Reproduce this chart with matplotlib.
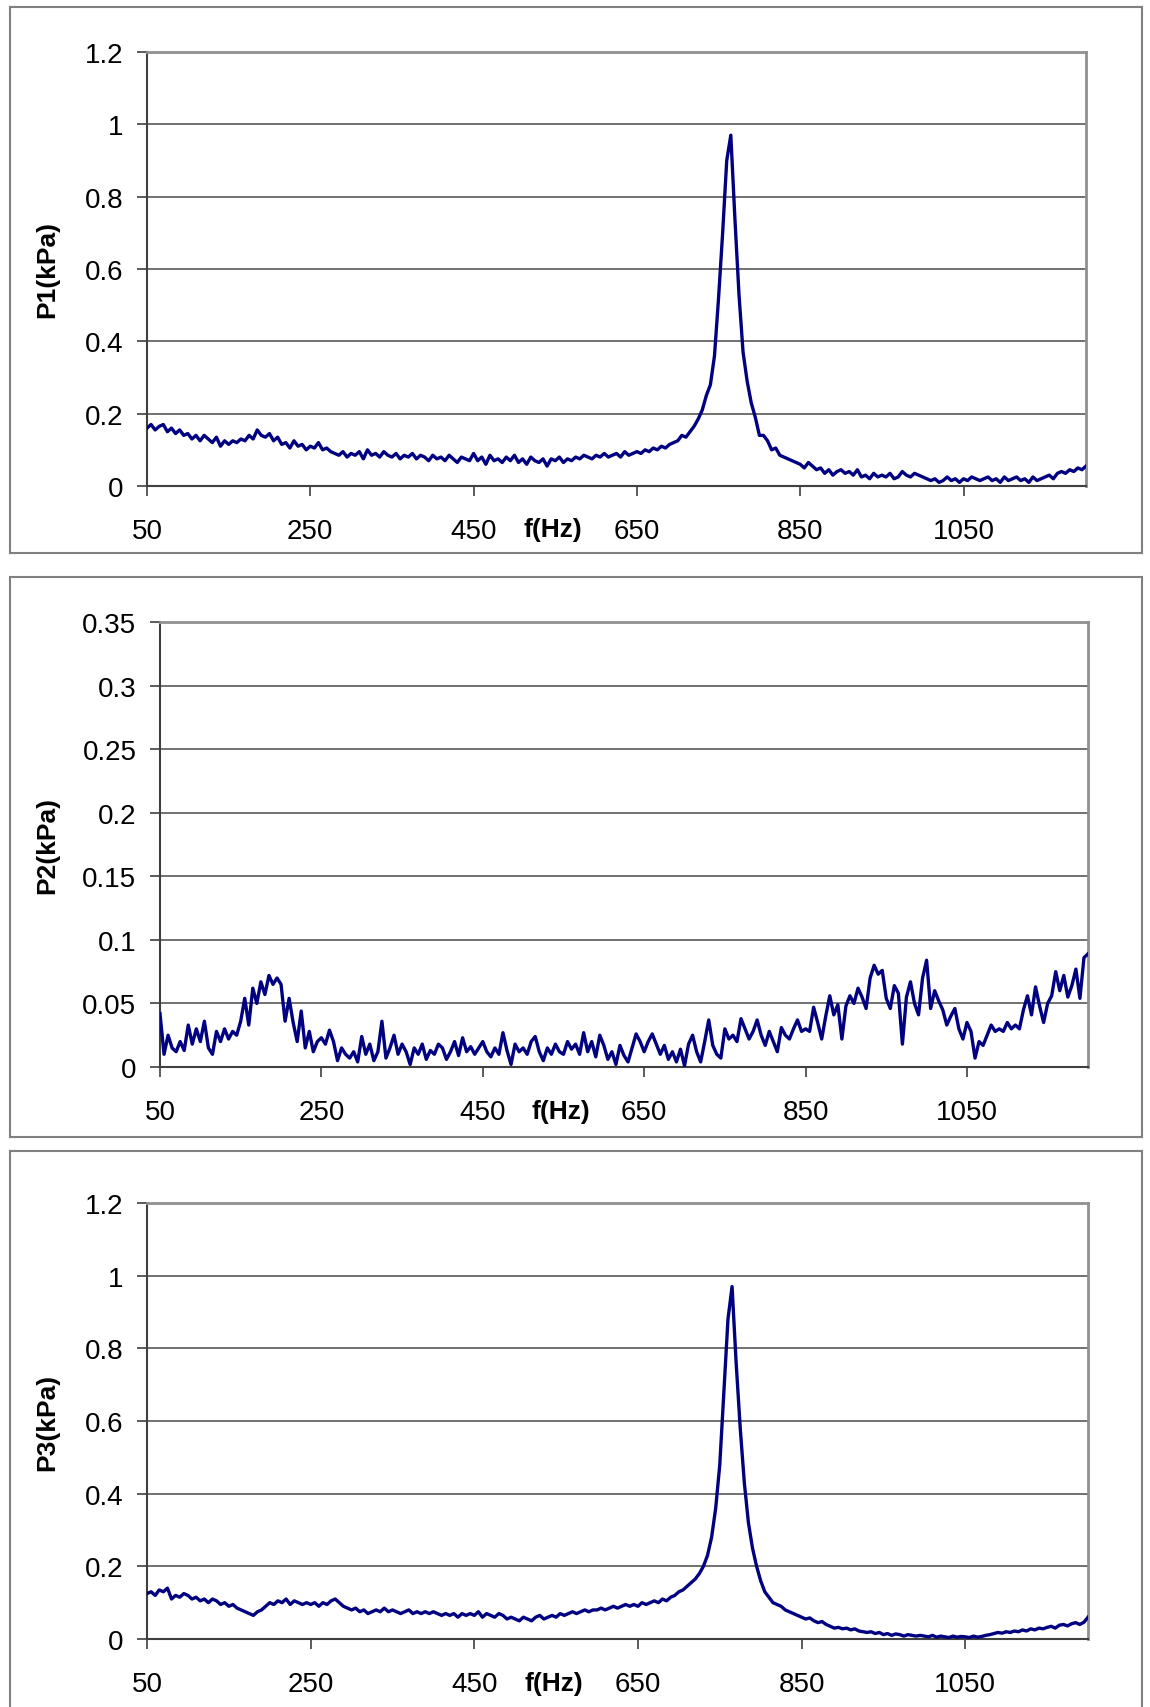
import numpy as np
import matplotlib
matplotlib.use('Agg')
import matplotlib.pyplot as plt
from matplotlib.patches import Rectangle

plt.rcParams['font.family'] = ['Liberation Sans', 'DejaVu Sans']

# ---------------- data (5 Hz steps, 50 .. 1200 Hz) ----------------
freq = np.arange(50, 1201, 5)

p1 = [
    0.16, 0.17, 0.155, 0.165, 0.17, 0.15, 0.16, 0.145, 0.155, 0.14,
    0.145, 0.13, 0.14, 0.125, 0.14, 0.13, 0.12, 0.135, 0.11, 0.125,
    0.115, 0.125, 0.12, 0.13, 0.125, 0.14, 0.13, 0.155, 0.14, 0.135,
    0.145, 0.125, 0.135, 0.115, 0.12, 0.105, 0.125, 0.11, 0.115, 0.1,
    0.11, 0.105, 0.12, 0.1, 0.105, 0.095, 0.09, 0.085, 0.095, 0.08,
    0.09, 0.085, 0.095, 0.075, 0.1, 0.085, 0.09, 0.08, 0.095, 0.085,
    0.08, 0.09, 0.075, 0.085, 0.08, 0.09, 0.075, 0.085, 0.08, 0.07,
    0.085, 0.075, 0.08, 0.07, 0.085, 0.075, 0.065, 0.08, 0.075, 0.07,
    0.09, 0.07, 0.08, 0.06, 0.085, 0.07, 0.075, 0.065, 0.08, 0.07,
    0.085, 0.065, 0.075, 0.06, 0.08, 0.07, 0.065, 0.075, 0.055, 0.075,
    0.07, 0.08, 0.065, 0.075, 0.07, 0.08, 0.075, 0.085, 0.08, 0.075,
    0.085, 0.08, 0.09, 0.08, 0.085, 0.09, 0.08, 0.095, 0.085, 0.09,
    0.095, 0.09, 0.1, 0.095, 0.105, 0.1, 0.11, 0.105, 0.115, 0.12,
    0.125, 0.14, 0.135, 0.15, 0.165, 0.185, 0.21, 0.25, 0.28, 0.36,
    0.52, 0.7, 0.9, 0.97, 0.74, 0.53, 0.37, 0.29, 0.23, 0.19,
    0.14, 0.14, 0.125, 0.1, 0.105, 0.085, 0.08, 0.075, 0.07, 0.065,
    0.06, 0.05, 0.065, 0.055, 0.045, 0.05, 0.035, 0.045, 0.03, 0.04,
    0.045, 0.035, 0.04, 0.03, 0.045, 0.025, 0.03, 0.02, 0.035, 0.025,
    0.03, 0.025, 0.035, 0.02, 0.025, 0.04, 0.03, 0.025, 0.035, 0.03,
    0.025, 0.02, 0.015, 0.02, 0.01, 0.015, 0.025, 0.015, 0.02, 0.01,
    0.02, 0.015, 0.025, 0.02, 0.015, 0.02, 0.025, 0.015, 0.02, 0.01,
    0.025, 0.015, 0.02, 0.025, 0.015, 0.02, 0.01, 0.025, 0.015, 0.02,
    0.025, 0.03, 0.02, 0.035, 0.04, 0.035, 0.045, 0.04, 0.05, 0.045,
    0.055,
]

p2 = [
    0.042, 0.01, 0.025, 0.015, 0.012, 0.02, 0.013, 0.033, 0.018, 0.03,
    0.02, 0.036, 0.015, 0.01, 0.028, 0.02, 0.03, 0.022, 0.028, 0.025,
    0.036, 0.054, 0.033, 0.062, 0.05, 0.067, 0.057, 0.072, 0.065, 0.07,
    0.065, 0.036, 0.054, 0.035, 0.02, 0.044, 0.015, 0.028, 0.012, 0.02,
    0.023, 0.018, 0.029, 0.02, 0.005, 0.015, 0.01, 0.007, 0.012, 0.004,
    0.024, 0.01, 0.018, 0.005, 0.012, 0.036, 0.007, 0.015, 0.025, 0.01,
    0.018, 0.012, 0.002, 0.015, 0.01, 0.018, 0.006, 0.013, 0.01, 0.018,
    0.015, 0.006, 0.012, 0.02, 0.009, 0.023, 0.012, 0.016, 0.01, 0.015,
    0.02, 0.012, 0.008, 0.015, 0.01, 0.027, 0.013, 0.002, 0.018, 0.012,
    0.015, 0.01, 0.02, 0.024, 0.012, 0.005, 0.015, 0.01, 0.018, 0.012,
    0.01, 0.02, 0.014, 0.018, 0.01, 0.027, 0.012, 0.02, 0.008, 0.025,
    0.017, 0.006, 0.012, 0.002, 0.017, 0.009, 0.004, 0.015, 0.026, 0.02,
    0.012, 0.02, 0.026, 0.018, 0.01, 0.017, 0.006, 0.012, 0.004, 0.014,
    0.001, 0.018, 0.025, 0.012, 0.004, 0.02, 0.037, 0.017, 0.01, 0.007,
    0.03, 0.022, 0.025, 0.02, 0.038, 0.03, 0.022, 0.028, 0.037, 0.025,
    0.017, 0.028, 0.02, 0.012, 0.031, 0.025, 0.022, 0.03, 0.037, 0.028,
    0.03, 0.028, 0.047, 0.035, 0.022, 0.04, 0.056, 0.041, 0.049, 0.022,
    0.048, 0.056, 0.05, 0.062, 0.055, 0.046, 0.07, 0.08, 0.073, 0.076,
    0.054, 0.046, 0.064, 0.058, 0.018, 0.055, 0.067, 0.05, 0.041, 0.07,
    0.084, 0.046, 0.06, 0.052, 0.045, 0.033, 0.04, 0.046, 0.03, 0.022,
    0.035, 0.028, 0.007, 0.02, 0.017, 0.025, 0.033, 0.028, 0.03, 0.028,
    0.035, 0.03, 0.033, 0.03, 0.045, 0.056, 0.041, 0.063, 0.048, 0.035,
    0.05, 0.056, 0.075, 0.06, 0.072, 0.055, 0.064, 0.077, 0.054, 0.086,
    0.089,
]

p3 = [
    0.125, 0.13, 0.12, 0.135, 0.13, 0.14, 0.11, 0.12, 0.115, 0.125,
    0.12, 0.11, 0.115, 0.105, 0.11, 0.1, 0.11, 0.105, 0.095, 0.1,
    0.09, 0.095, 0.085, 0.08, 0.075, 0.07, 0.065, 0.075, 0.08, 0.09,
    0.1, 0.095, 0.105, 0.1, 0.11, 0.095, 0.105, 0.1, 0.095, 0.1,
    0.095, 0.1, 0.09, 0.1, 0.095, 0.105, 0.11, 0.1, 0.09, 0.085,
    0.08, 0.085, 0.075, 0.08, 0.07, 0.075, 0.08, 0.075, 0.085, 0.075,
    0.08, 0.075, 0.07, 0.075, 0.08, 0.07, 0.075, 0.07, 0.075, 0.07,
    0.075, 0.07, 0.065, 0.07, 0.065, 0.07, 0.06, 0.07, 0.065, 0.07,
    0.065, 0.075, 0.06, 0.07, 0.065, 0.06, 0.07, 0.065, 0.055, 0.06,
    0.055, 0.05, 0.06, 0.055, 0.05, 0.06, 0.065, 0.055, 0.06, 0.065,
    0.06, 0.07, 0.065, 0.07, 0.075, 0.07, 0.075, 0.08, 0.075, 0.08,
    0.08, 0.085, 0.08, 0.085, 0.09, 0.085, 0.09, 0.095, 0.09, 0.095,
    0.09, 0.1, 0.095, 0.1, 0.105, 0.1, 0.11, 0.105, 0.115, 0.12,
    0.13, 0.135, 0.145, 0.155, 0.165, 0.18, 0.2, 0.23, 0.28, 0.36,
    0.48, 0.68, 0.88, 0.97, 0.76, 0.58, 0.43, 0.32, 0.25, 0.2,
    0.16, 0.13, 0.115, 0.1, 0.095, 0.09, 0.08, 0.075, 0.07, 0.065,
    0.06, 0.055, 0.058, 0.05, 0.045, 0.048, 0.04, 0.035, 0.03, 0.032,
    0.028, 0.03, 0.025, 0.028, 0.022, 0.02, 0.018, 0.02, 0.015, 0.018,
    0.012, 0.015, 0.01, 0.014, 0.012, 0.008, 0.012, 0.01, 0.008, 0.01,
    0.008, 0.006, 0.01, 0.005, 0.008, 0.006, 0.004, 0.008, 0.005, 0.007,
    0.006, 0.004, 0.008, 0.005, 0.007, 0.01, 0.012, 0.015, 0.018, 0.016,
    0.02, 0.018, 0.022, 0.02, 0.025, 0.022, 0.028, 0.025, 0.03, 0.028,
    0.032, 0.035, 0.03, 0.038, 0.04, 0.036, 0.042, 0.045, 0.04, 0.046,
    0.06,
]

x_ticks = [50, 250, 450, 650, 850, 1050]
y_ticks_big = [0, 0.2, 0.4, 0.6, 0.8, 1.0, 1.2]
y_labels_big = ['0', '0.2', '0.4', '0.6', '0.8', '1', '1.2']
y_ticks_p2 = [0, 0.05, 0.1, 0.15, 0.2, 0.25, 0.3, 0.35]
y_labels_p2 = ['0', '0.05', '0.1', '0.15', '0.2', '0.25', '0.3', '0.35']

W, H = 1150, 1708
fig = plt.figure(figsize=(W / 100, H / 100), dpi=100)
fig.patch.set_facecolor('white')


def px_rect(l, t, r, b):
    return [l / W, 1 - b / H, (r - l) / W, (b - t) / H]


panels = [
    # data, ylabel, yticks, ylabels, axes rect(px), frame(px)
    (p1, 'P1(kPa)', y_ticks_big, y_labels_big, (147, 53, 1086, 487), (10, 8, 1142, 554)),
    (p2, 'P2(kPa)', y_ticks_p2, y_labels_p2, (160, 623, 1088, 1068), (10, 578, 1142, 1138)),
    (p3, 'P3(kPa)', y_ticks_big, y_labels_big, (147, 1204, 1088, 1640), (10, 1152, 1142, 1730)),
]

for data, ylab, yt, yl, arect, frame in panels:
    # outer chart frame
    l, t, r, b = frame
    fig.patches.append(Rectangle((l / W, 1 - b / H), (r - l) / W, (b - t) / H,
                                 transform=fig.transFigure, fill=False,
                                 edgecolor='#808080', linewidth=1.5))

    ax = fig.add_axes(px_rect(*arect))
    ax.plot(freq, data, color='#000080', linewidth=2.4, zorder=3)
    ax.set_xlim(50, 1200)
    ax.set_ylim(yt[0], yt[-1])
    ax.set_xticks(x_ticks)
    ax.set_xticklabels([str(v) for v in x_ticks])
    ax.set_yticks(yt)
    ax.set_yticklabels(yl)
    ax.yaxis.grid(True, color='#707070', linewidth=1.4)
    ax.set_axisbelow(True)

    for s in ['top', 'right']:
        ax.spines[s].set_color('#909090')
        ax.spines[s].set_linewidth(2.0)
    for s in ['left', 'bottom']:
        ax.spines[s].set_color('#404040')
        ax.spines[s].set_linewidth(1.5)

    ax.tick_params(axis='y', direction='out', length=7, width=1.2,
                   color='#404040', labelsize=20, pad=10)
    ax.tick_params(axis='x', direction='out', length=7, width=1.2,
                   color='#404040', labelsize=20, pad=16)

    # axis titles
    yc = 1 - (arect[1] + arect[3]) / 2 / H
    fig.text(47 / W, yc, ylab, rotation=90, ha='center', va='center',
             fontsize=19, fontweight='bold')
    ax.text(0.432, -0.1, 'f(Hz)', transform=ax.transAxes, ha='center',
            va='center', fontsize=19, fontweight='bold')

plt.savefig('out.png', dpi=100)
